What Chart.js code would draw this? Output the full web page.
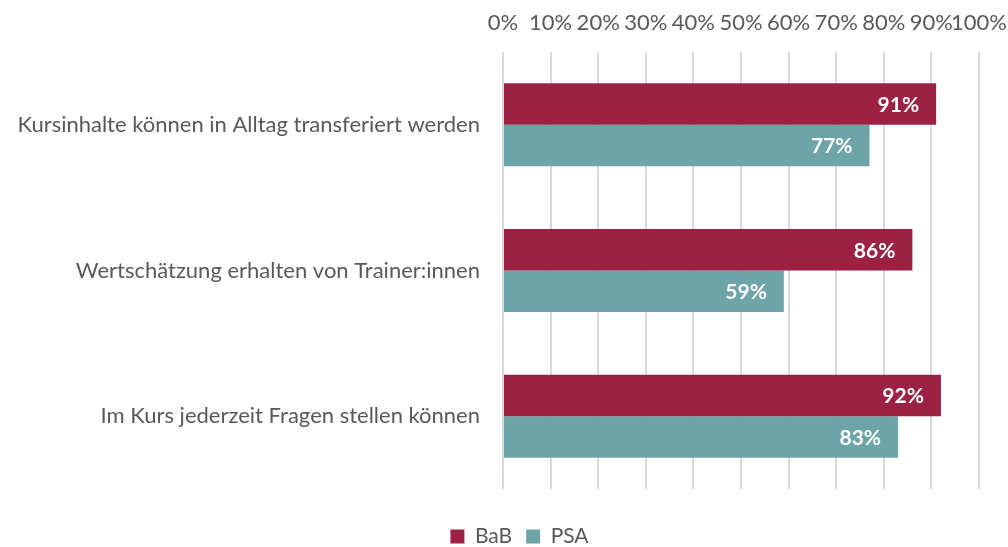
<!DOCTYPE html>
<html>
<head>
<meta charset="utf-8">
<script src="https://cdn.jsdelivr.net/npm/chart.js@4"></script>
<style>
  html, body { margin: 0; padding: 0; background: #fff; }
  #wrap { width: 1008px; height: 547px; position: relative; }
</style>
</head>
<body>
<div id="wrap"><canvas id="chart"></canvas></div>
<script>
// categories and series (percent)
const categories = [
    'Kursinhalte können in Alltag transferiert werden',
    'Wertschätzung erhalten von Trainer:innen',
    'Im Kurs jederzeit Fragen stellen können'
];
const babValues = [91, 86, 92];
const psaValues = [77, 59, 83];
const tickValues = [0, 10, 20, 30, 40, 50, 60, 70, 80, 90, 100];

const textColor = '#595959';
const fontFamily = "Lato, 'Open Sans', sans-serif";

// white bold value labels at the inner end of each bar
const barLabels = {
    id: 'barLabels',
    afterDatasetsDraw(chart) {
        const ctx = chart.ctx;
        ctx.save();
        ctx.fillStyle = '#ffffff';
        ctx.font = "bold 21px " + fontFamily;
        ctx.textAlign = 'right';
        ctx.textBaseline = 'middle';
        chart.data.datasets.forEach((ds, i) => {
            const meta = chart.getDatasetMeta(i);
            meta.data.forEach((bar, j) => {
                ctx.fillText(ds.data[j] + '%', bar.x - 17, bar.y + 1);
            });
        });
        ctx.restore();
    }
};

// move the legend lower and a bit to the right of where Chart.js puts it
const legendShift = {
    id: 'legendShift',
    afterLayout(chart) {
        const lg = chart.legend;
        if (lg) {
            lg.top += 23;
            lg.bottom += 23;
            lg.left += 30;
            lg.right += 30;
        }
    }
};

new Chart(document.getElementById('chart'), {
    type: 'bar',
    data: {
        labels: categories,
        datasets: [
            {
                label: 'BaB',
                data: babValues,
                backgroundColor: '#9C2142',
                categoryPercentage: 0.57,
                barPercentage: 1.0
            },
            {
                label: 'PSA',
                data: psaValues,
                backgroundColor: '#6DA4A7',
                categoryPercentage: 0.57,
                barPercentage: 1.0
            }
        ]
    },
    options: {
        indexAxis: 'y',
        responsive: true,
        maintainAspectRatio: false,
        animation: false,
        layout: {
            padding: { left: 0, right: 29, top: 0, bottom: 13 }
        },
        plugins: {
            legend: {
                position: 'bottom',
                labels: {
                    color: textColor,
                    font: { family: fontFamily, size: 21 },
                    boxWidth: 14,
                    boxHeight: 14,
                    padding: 14
                }
            },
            tooltip: { enabled: false }
        },
        scales: {
            x: {
                position: 'top',
                min: 0,
                max: 100,
                afterBuildTicks: (scale) => {
                    scale.ticks = tickValues.map(v => ({ value: v }));
                },
                afterFit: (scale) => {
                    scale.height = 52;
                    scale.paddingLeft = 0;
                    scale.paddingRight = 0;
                },
                border: { display: false },
                grid: {
                    color: '#D9D9D9',
                    lineWidth: 2,
                    drawTicks: false
                },
                ticks: {
                    color: textColor,
                    font: { family: fontFamily, size: 22 },
                    padding: 16,
                    maxRotation: 0,
                    autoSkip: false,
                    callback: (v) => v + '%'
                }
            },
            y: {
                afterFit: (scale) => { scale.width = 503; },
                border: { display: false },
                grid: { display: false, drawTicks: false },
                ticks: {
                    color: textColor,
                    font: { family: fontFamily, size: 22 },
                    padding: 23
                }
            }
        }
    },
    plugins: [barLabels, legendShift]
});
</script>
</body>
</html>
